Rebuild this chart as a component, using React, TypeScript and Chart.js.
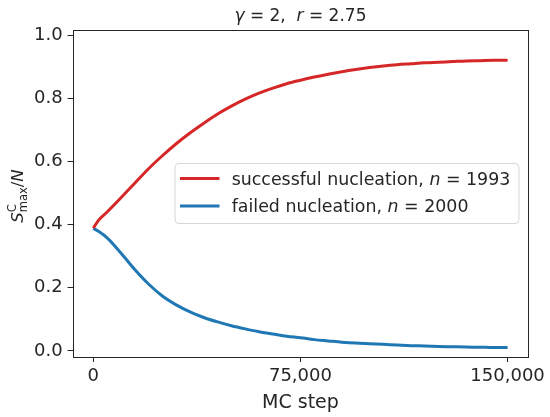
import { useEffect, useRef } from "react";
import { Chart, registerables } from "chart.js";

Chart.register(...registerables);

// MC steps (x values)
const steps = [
  0, 2000, 5000, 10000, 15000, 20000, 25000, 30000, 35000, 40000, 45000, 50000,
  55000, 60000, 65000, 70000, 75000, 80000, 85000, 90000, 95000, 100000, 105000,
  110000, 115000, 120000, 125000, 130000, 135000, 140000, 145000, 150000,
];

// successful nucleation, n = 1993
const successful = [
  0.389, 0.415, 0.44, 0.485, 0.531, 0.577, 0.618, 0.656, 0.69, 0.721, 0.75,
  0.775, 0.797, 0.816, 0.832, 0.846, 0.857, 0.867, 0.876, 0.884, 0.891, 0.897,
  0.902, 0.906, 0.909, 0.912, 0.914, 0.916, 0.918, 0.919, 0.92, 0.92,
];

// failed nucleation, n = 2000
const failed = [
  0.388, 0.378, 0.358, 0.31, 0.258, 0.212, 0.174, 0.146, 0.124, 0.106, 0.092,
  0.08, 0.07, 0.061, 0.054, 0.047, 0.042, 0.036, 0.032, 0.028, 0.025, 0.023,
  0.021, 0.019, 0.017, 0.016, 0.0145, 0.0135, 0.0125, 0.012, 0.011, 0.011,
];

const xTicks = [0, 75000, 150000];
const yTicks = [0, 0.2, 0.4, 0.6, 0.8, 1.0];

const seriesNames = ["successful nucleation, ", "failed nucleation, "];
const seriesCounts = ["1993", "2000"];
const seriesColors = ["#d62728", "#1f77b4"];

const FONT = "'DejaVu Sans', 'Liberation Sans', sans-serif";
const INK = "#262626";

type Seg = { t: string; i?: boolean; size: number; dy?: number };

function segWidth(ctx: CanvasRenderingContext2D, s: Seg) {
  ctx.font = `${s.i ? "italic " : ""}${s.size}px ${FONT}`;
  return ctx.measureText(s.t).width;
}

function drawSegs(
  ctx: CanvasRenderingContext2D,
  segs: Seg[],
  x: number,
  y: number,
  align: "left" | "center"
) {
  let total = 0;
  for (const s of segs) total += segWidth(ctx, s);
  let cx = align === "center" ? x - total / 2 : x;
  ctx.textAlign = "left";
  ctx.textBaseline = "alphabetic";
  for (const s of segs) {
    ctx.font = `${s.i ? "italic " : ""}${s.size}px ${FONT}`;
    ctx.fillText(s.t, cx, y + (s.dy || 0));
    cx += ctx.measureText(s.t).width;
  }
}

const decorPlugin = {
  id: "decor",
  afterDraw(chart: any) {
    const ctx: CanvasRenderingContext2D = chart.ctx;
    const a = chart.chartArea;
    ctx.save();
    // frame
    ctx.strokeStyle = INK;
    ctx.lineWidth = 1;
    ctx.strokeRect(
      Math.round(a.left) + 0.5,
      Math.round(a.top) + 0.5,
      Math.round(a.right) - Math.round(a.left),
      Math.round(a.bottom) - Math.round(a.top)
    );
    ctx.fillStyle = INK;

    // title
    const cxT = (a.left + a.right) / 2;
    drawSegs(
      ctx,
      [
        { t: "γ", i: true, size: 17 },
        { t: " = 2,  ", size: 17 },
        { t: "r", i: true, size: 17 },
        { t: " = 2.75", size: 17 },
      ],
      cxT,
      21,
      "center"
    );

    // x label
    ctx.font = `19px ${FONT}`;
    ctx.textAlign = "center";
    ctx.textBaseline = "alphabetic";
    ctx.fillText("MC step", cxT, 408);

    // y label (rotated)
    ctx.save();
    ctx.translate(23, 196);
    ctx.rotate(-Math.PI / 2);
    const big = 16.5;
    const small = 11.5;
    const wS = segWidth(ctx, { t: "S", i: true, size: big });
    const wSup = segWidth(ctx, { t: "C", size: small });
    const wSub = segWidth(ctx, { t: "max", size: small });
    const wSl = segWidth(ctx, { t: "/", size: big });
    const wN = segWidth(ctx, { t: "N", i: true, size: big });
    const wScript = Math.max(wSup, wSub);
    const total = wS + wScript + wSl + wN;
    let px = -total / 2;
    ctx.textAlign = "left";
    ctx.textBaseline = "alphabetic";
    ctx.font = `italic ${big}px ${FONT}`;
    ctx.fillText("S", px, 0);
    px += wS;
    ctx.font = `${small}px ${FONT}`;
    ctx.fillText("C", px, -7.5);
    ctx.fillText("max", px, 3.5);
    px += wScript;
    ctx.font = `${big}px ${FONT}`;
    ctx.fillText("/", px, 0);
    px += wSl;
    ctx.font = `italic ${big}px ${FONT}`;
    ctx.fillText("N", px, 0);
    ctx.restore();

    // legend
    const bx = 175,
      by = 163.5,
      bw = 344,
      bh = 60,
      r = 4;
    ctx.beginPath();
    ctx.moveTo(bx + r, by);
    ctx.lineTo(bx + bw - r, by);
    ctx.arcTo(bx + bw, by, bx + bw, by + r, r);
    ctx.lineTo(bx + bw, by + bh - r);
    ctx.arcTo(bx + bw, by + bh, bx + bw - r, by + bh, r);
    ctx.lineTo(bx + r, by + bh);
    ctx.arcTo(bx, by + bh, bx, by + bh - r, r);
    ctx.lineTo(bx, by + r);
    ctx.arcTo(bx, by, bx + r, by, r);
    ctx.closePath();
    ctx.fillStyle = "rgba(255,255,255,0.8)";
    ctx.fill();
    ctx.strokeStyle = "rgba(204,204,204,0.8)";
    ctx.lineWidth = 1;
    ctx.stroke();

    const rows = [178.5, 206];
    for (let k = 0; k < 2; k++) {
      const ly = rows[k];
      ctx.strokeStyle = seriesColors[k];
      ctx.lineWidth = 3;
      ctx.lineCap = "butt";
      ctx.beginPath();
      ctx.moveTo(180, ly);
      ctx.lineTo(219.5, ly);
      ctx.stroke();
      ctx.fillStyle = INK;
      drawSegs(
        ctx,
        [
          { t: seriesNames[k], size: 17.4 },
          { t: "n", i: true, size: 17.4 },
          { t: " = " + seriesCounts[k], size: 17.4 },
        ],
        231.7,
        ly + 6,
        "left"
      );
    }
    ctx.restore();
  },
};

export default function App() {
  const ref = useRef<HTMLCanvasElement | null>(null);

  useEffect(() => {
    if (!ref.current) return;
    const chart = new Chart(ref.current, {
      type: "line",
      data: {
        datasets: [
          {
            label: seriesNames[0] + "n = " + seriesCounts[0],
            data: steps.map((s, i) => ({ x: s, y: successful[i] })),
            borderColor: seriesColors[0],
            borderWidth: 3,
            pointRadius: 0,
            cubicInterpolationMode: "monotone",
            fill: false,
          },
          {
            label: seriesNames[1] + "n = " + seriesCounts[1],
            data: steps.map((s, i) => ({ x: s, y: failed[i] })),
            borderColor: seriesColors[1],
            borderWidth: 3,
            pointRadius: 0,
            cubicInterpolationMode: "monotone",
            fill: false,
          },
        ],
      },
      options: {
        animation: false,
        responsive: false,
        layout: { padding: { top: 30, right: 21.7, bottom: 0, left: 0 } },
        plugins: {
          legend: { display: false },
          title: { display: false },
          tooltip: { enabled: false },
        },
        scales: {
          x: {
            type: "linear",
            min: -7500,
            max: 157500,
            afterBuildTicks: (sc: any) => {
              sc.ticks = xTicks.map((v) => ({ value: v }));
            },
            afterFit: (sc: any) => {
              sc.height = 60;
            },
            ticks: {
              autoSkip: false,
              maxRotation: 0,
              padding: 4,
              color: INK,
              font: { family: FONT, size: 18 },
              callback: (v: any) => Number(v).toLocaleString("en-US"),
            },
            grid: {
              drawOnChartArea: false,
              drawTicks: true,
              tickLength: 5,
              color: INK,
            },
            border: { display: false },
          },
          y: {
            type: "linear",
            min: -0.019,
            max: 1.016,
            afterBuildTicks: (sc: any) => {
              sc.ticks = yTicks.map((v) => ({ value: v }));
            },
            afterFit: (sc: any) => {
              sc.width = 72.6;
            },
            ticks: {
              autoSkip: false,
              padding: 5,
              color: INK,
              font: { family: FONT, size: 18 },
              callback: (v: any) => Number(v).toFixed(1),
            },
            grid: {
              drawOnChartArea: false,
              drawTicks: true,
              tickLength: 5,
              color: INK,
            },
            border: { display: false },
          },
        },
      },
      plugins: [decorPlugin],
    });
    return () => chart.destroy();
  }, []);

  return (
    <div style={{ position: "absolute", left: 0, top: 0, width: 550, height: 417, background: "#fff" }}>
      <canvas ref={ref} width={550} height={417} style={{ width: 550, height: 417, display: "block" }} />
    </div>
  );
}
